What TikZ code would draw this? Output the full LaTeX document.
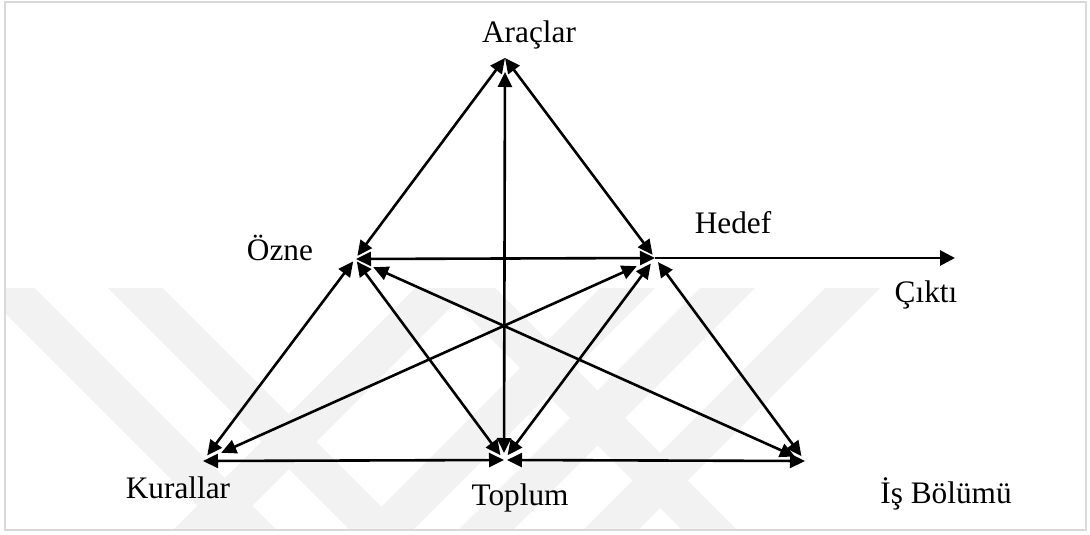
\documentclass[tikz,border=0pt]{standalone}
\usepackage{fontspec}
\setmainfont{Liberation Serif}
\usetikzlibrary{arrows.meta}
\begin{document}
\begin{tikzpicture}[x=1pt,y=-1pt,
  link/.style={line width=2.6pt,{Triangle[length=15pt,width=14pt]}-{Triangle[length=15pt,width=14pt]}},
  outlink/.style={line width=2.8pt,-{Triangle[length=15pt,width=15pt]}},
  lbl/.style={inner sep=0pt,anchor=base,font=\fontsize{31.3}{36}\selectfont},
  wm/.style={fill=black!5,draw=none},
  frame/.style={draw=black!15,line width=2.5pt}]
\useasboundingbox (0,0) rectangle (1090,535);
% watermark
\begin{scope}
\clip (5,2) rectangle (1086,530);
\foreach \a in {-20,108,440}
  \fill[wm] (\a,288) -- (\a+55,288) -- (\a+305,538) -- (\a+250,538) -- cycle;
\foreach \a in {415,600,700,825}
  \fill[wm] (\a,288) -- (\a+55,288) -- (\a-195,538) -- (\a-250,538) -- cycle;
\end{scope}
\draw[frame] (5,2) rectangle (1086,530);
% points
\coordinate (A) at (505,58);
\coordinate (O) at (355,259);
\coordinate (H) at (655,258);
\coordinate (K) at (203,461);
\coordinate (T) at (504,460);
\coordinate (I) at (805,461);
\coordinate (C) at (955,258);
% connectors
\draw[link,shorten <=4pt] (O) -- (A);
\draw[link,shorten <=4pt] (H) -- (A);
\draw[link,shorten <=7pt,shorten >=14pt] (T) -- (A);
\draw[link,shorten <=1pt] (O) -- (H);
\draw[link,shorten <=3pt,shorten >=7pt] (O) -- (K);
\draw[link,shorten <=3pt,shorten >=6pt] (O) -- (T);
\draw[link,shorten <=20pt,shorten >=11pt] (O) -- (I);
\draw[link,shorten <=20pt,shorten >=20pt] (H) -- (K);
\draw[link,shorten <=7pt,shorten >=6pt] (H) -- (T);
\draw[link,shorten <=5pt,shorten >=6pt] (H) -- (I);
\draw[link] (K) -- (T);
\draw[link,shorten <=3pt] (T) -- (I);
\draw[outlink] (H) -- (C);
% labels
\node[lbl] (araclar) at (529,43) {Araçlar};
\node[lbl] (ozne) at (280,260) {Özne};
\node[lbl] (hedef) at (733,233) {Hedef};
\node[lbl] (cikti) at (926,302) {Çıktı};
\node[lbl] (kurallar) at (178,498) {Kurallar};
\node[lbl] (toplum) at (520,505) {Toplum};
\node[lbl] (isbolumu) at (946,503) {İş Bölümü};
\end{tikzpicture}
\end{document}
